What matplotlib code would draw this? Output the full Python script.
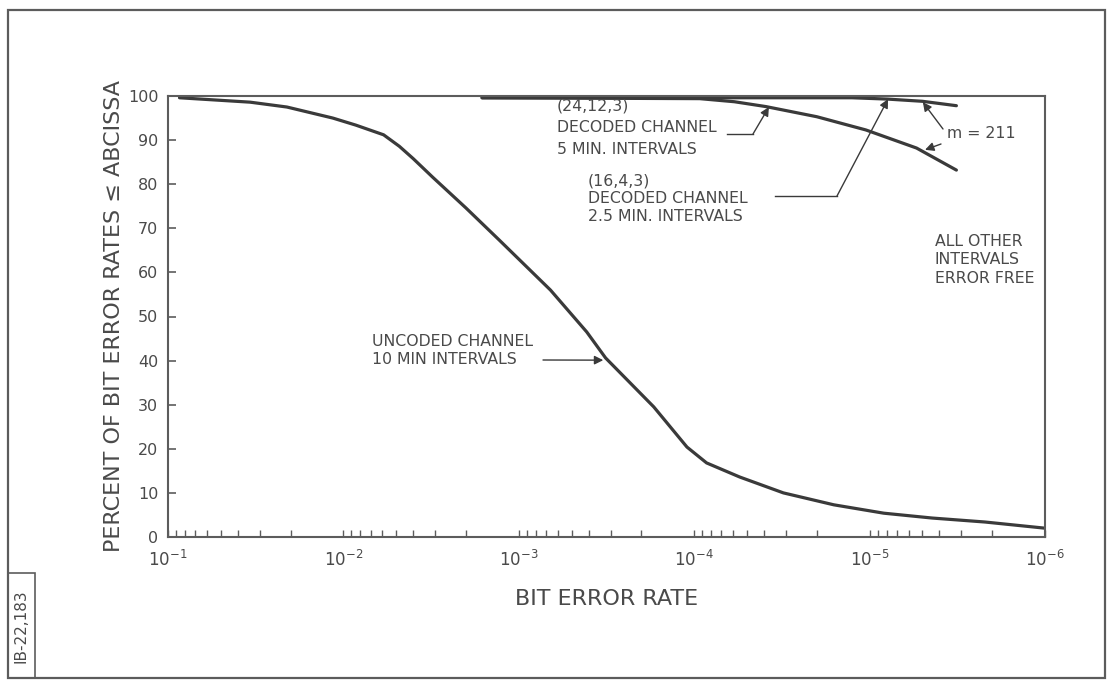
import numpy as np
import matplotlib
matplotlib.use("Agg")
import matplotlib.pyplot as plt
from matplotlib.patches import Rectangle
from matplotlib.lines import Line2D
from matplotlib.ticker import LogLocator, NullFormatter, LogFormatterMathtext

# ---- data ----
uncoded_ber = [0.086, 0.034, 0.021, 0.0115, 0.0085, 0.0059, 0.0048, 0.0040, 0.0031,
               0.0020, 0.00129, 6.6e-4, 4.1e-4, 3.2e-4, 1.7e-4, 1.1e-4, 8.5e-5,
               5.5e-5, 3.1e-5, 1.6e-5, 8.3e-6, 4.4e-6, 2.2e-6, 1.0e-6]
uncoded_pct = [99.6, 98.6, 97.5, 95.0, 93.4, 91.2, 88.6, 85.8, 81.6,
               74.6, 67.3, 56.0, 46.5, 40.6, 29.5, 20.4, 16.8,
               13.6, 10.0, 7.3, 5.4, 4.3, 3.4, 2.0]

code24_ber = [1.62e-3, 9.3e-5, 5.9e-5, 3.9e-5, 2.0e-5, 1.05e-5, 5.4e-6, 3.2e-6]
code24_pct = [99.6, 99.4, 98.7, 97.6, 95.3, 92.3, 88.2, 83.2]

code16_ber = [1.62e-3, 1.26e-5, 7.9e-6, 5.0e-6, 3.2e-6]
code16_pct = [99.6, 99.6, 99.3, 98.8, 97.8]

yticks = list(range(0, 101, 10))

W, H = 1107, 685
INK = "#3a3a3a"
TXT = "#4a4a4a"
AX = "#5c5c5c"

plt.rcParams.update({
    "font.family": ["DejaVu Sans"],
    "mathtext.default": "regular",
})


def px(x, y):
    return (x / W, 1 - y / H)


fig = plt.figure(figsize=(W / 100, H / 100), dpi=100)
ax = fig.add_axes([168 / W, 1 - 537 / H, (1045 - 168) / W, (537 - 96) / H])

ax.plot(uncoded_ber, uncoded_pct, color=INK, lw=2.3, solid_capstyle="round", solid_joinstyle="round")
ax.plot(code24_ber, code24_pct, color=INK, lw=2.3, solid_capstyle="round", solid_joinstyle="round")
ax.plot(code16_ber, code16_pct, color=INK, lw=2.3, solid_capstyle="round", solid_joinstyle="round")

ax.set_xscale("log")
ax.set_xlim(1e-1, 1e-6)
ax.set_ylim(0, 100)
ax.set_yticks(yticks)
ax.xaxis.set_major_locator(LogLocator(base=10, numticks=10))
ax.xaxis.set_minor_locator(LogLocator(base=10, subs=np.arange(2, 10), numticks=20))
ax.xaxis.set_major_formatter(LogFormatterMathtext())
ax.xaxis.set_minor_formatter(NullFormatter())

for s in ax.spines.values():
    s.set_color(AX)
    s.set_linewidth(1.5)

ax.tick_params(axis="both", which="both", direction="in", color=AX, labelcolor=TXT)
ax.tick_params(axis="y", which="major", length=6, width=1.2, labelsize=11.5, pad=7)
ax.tick_params(axis="x", which="major", length=5, width=1.0, labelsize=12, pad=9)
ax.tick_params(axis="x", which="minor", length=5, width=1.0)
ax.tick_params(top=False, right=False, which="both")

ax.set_xlabel("BIT ERROR RATE", fontsize=16, color=TXT, labelpad=14)
ax.set_ylabel("PERCENT OF BIT ERROR RATES \u2264 ABCISSA", fontsize=16, color=TXT, labelpad=3)

# ---- annotations ----
tfs = 11.3
fig.text(*px(372, 350), "UNCODED CHANNEL\n10 MIN INTERVALS", fontsize=tfs, color=TXT,
         va="center", ha="left", linespacing=1.25)
fig.text(*px(557, 128), "(24,12,3)\nDECODED CHANNEL\n5 MIN. INTERVALS", fontsize=tfs, color=TXT,
         va="center", ha="left", linespacing=1.55)
fig.text(*px(588, 199), "(16,4,3)\nDECODED CHANNEL\n2.5 MIN. INTERVALS", fontsize=tfs, color=TXT,
         va="center", ha="left", linespacing=1.25)
fig.text(*px(947, 134), "m = 211", fontsize=tfs, color=TXT, va="center", ha="left")
fig.text(*px(935, 260), "ALL OTHER\nINTERVALS\nERROR FREE", fontsize=tfs, color=TXT,
         va="center", ha="left", linespacing=1.3)

arrow = dict(arrowstyle="-|>", color=INK, lw=1.0, mutation_scale=13, shrinkA=0, shrinkB=0)

ax.annotate("", xy=(3.3e-4, 40.1), xycoords="data",
            xytext=px(543, 360), textcoords="figure fraction", arrowprops=arrow)

fig.add_artist(Line2D([727 / W, 753 / W], [1 - 134 / H, 1 - 134 / H], color=INK, lw=1.0))
ax.annotate("", xy=(3.75e-5, 97.5), xycoords="data",
            xytext=px(753, 134), textcoords="figure fraction", arrowprops=arrow)

fig.add_artist(Line2D([775 / W, 837 / W], [1 - 196 / H, 1 - 196 / H], color=INK, lw=1.0))
ax.annotate("", xy=(7.85e-6, 99.3), xycoords="data",
            xytext=px(837, 196), textcoords="figure fraction", arrowprops=arrow)

ax.annotate("", xy=(4.97e-6, 98.6), xycoords="data",
            xytext=px(943, 129), textcoords="figure fraction", arrowprops=arrow)
ax.annotate("", xy=(4.83e-6, 87.8), xycoords="data",
            xytext=px(941, 144), textcoords="figure fraction", arrowprops=arrow)

# ---- page frame and figure id box ----
fig.add_artist(Rectangle(px(8, 678), (1105 - 8) / W, (678 - 10) / H, transform=fig.transFigure,
                         fill=False, edgecolor=AX, lw=1.6))
fig.add_artist(Rectangle(px(8, 678), (35 - 8) / W, (678 - 573) / H, transform=fig.transFigure,
                         fill=False, edgecolor=AX, lw=1.2))
fig.text(*px(21, 626), "IB-22,183", rotation=90, fontsize=11, color=TXT, ha="center", va="center")

fig.savefig("out.png", dpi=100)
